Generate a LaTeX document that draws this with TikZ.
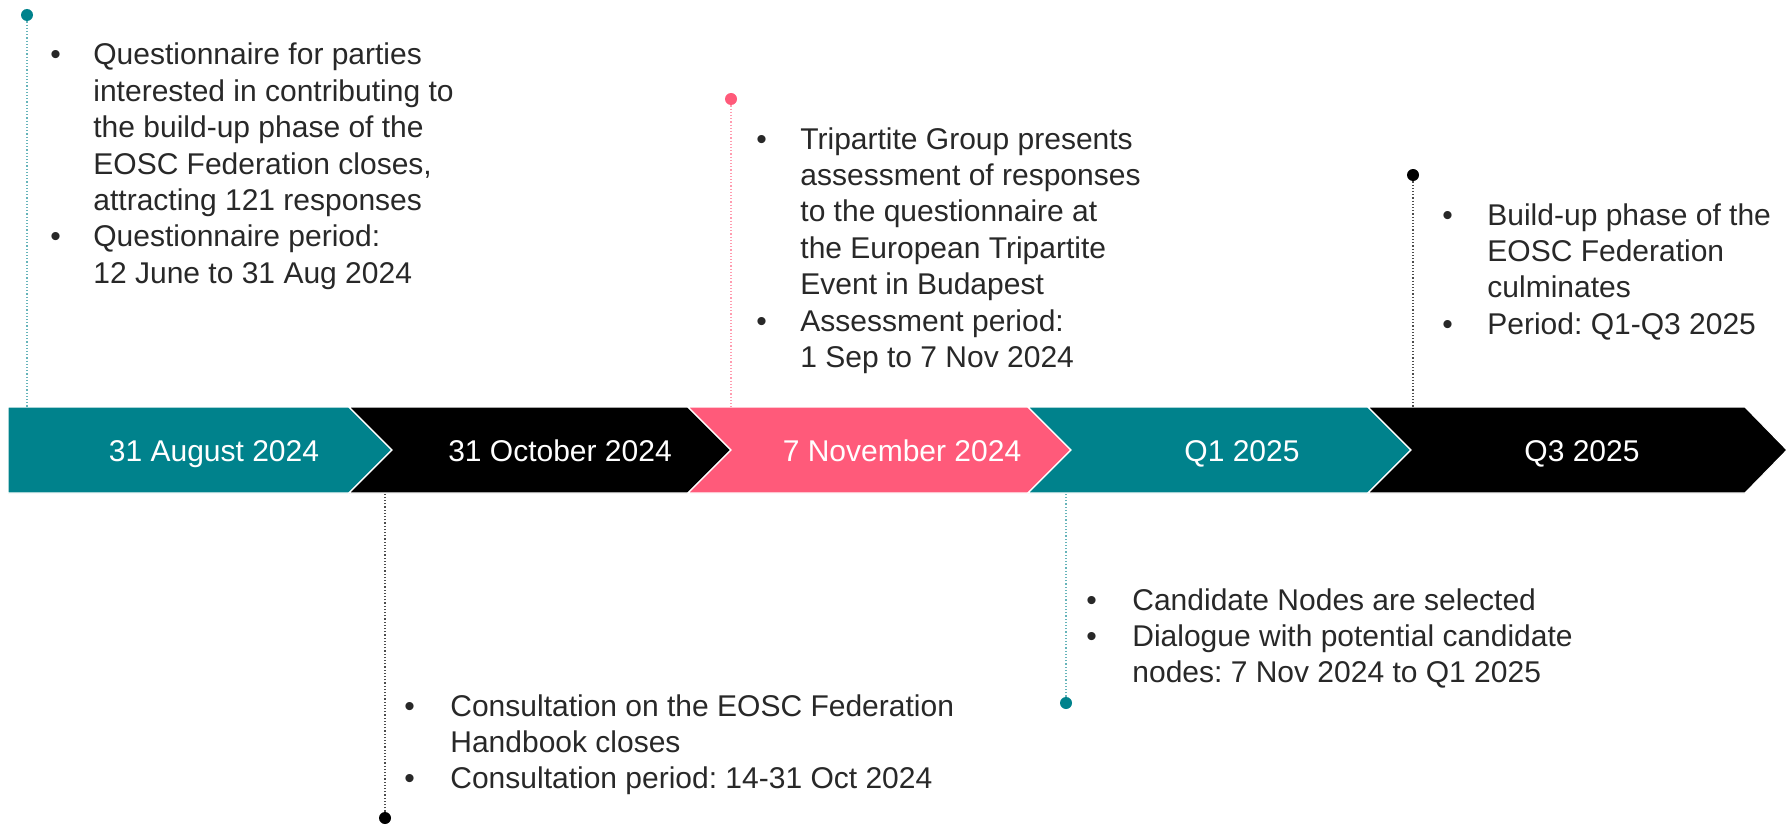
\documentclass[tikz,border=0pt]{standalone}
\definecolor{eoscteal}{RGB}{0, 130, 140}
\definecolor{eoscpink}{RGB}{255, 90, 122}
\definecolor{notegray}{RGB}{40, 40, 40}
\usepackage{fontspec}
\setmainfont{Liberation Sans}
\usepackage{tikz}
\usetikzlibrary{positioning, calc}
\frenchspacing

\begin{document}
\begin{tikzpicture}[x=0.5pt, y=-0.5pt,
  chev/.style={draw=white, line width=0.6pt},
  datelabel/.style={text=white, anchor=base, inner sep=0pt, font=\fontsize{15}{18}\selectfont},
  note/.style={anchor=base west, inner sep=0pt, text=notegray, font=\fontsize{15}{18.2}\selectfont},
  eventdot/.style={circle, fill=#1, inner sep=0pt, minimum size=6pt},
  stem/.style={draw=#1, line width=0.6pt, densely dotted}]
  \useasboundingbox (0,0) rectangle (1787,824);

  % Timeline bar
  \coordinate (bartop) at (0,407);
  \coordinate (barbot) at (0,493);
  \fill[eoscteal, chev] (8,407) -- (349,407) -- (392,450) -- (349,493) -- (8,493) -- cycle;
  \fill[black, chev] (349,407) -- (688,407) -- (731,450) -- (688,493) -- (349,493) -- (392,450) -- cycle;
  \fill[eoscpink, chev] (688,407) -- (1028,407) -- (1071,450) -- (1028,493) -- (688,493) -- (731,450) -- cycle;
  \fill[eoscteal, chev] (1028,407) -- (1368,407) -- (1411,450) -- (1368,493) -- (1028,493) -- (1071,450) -- cycle;
  \fill[black, chev] (1368,407) -- (1745,407) -- (1787,450) -- (1745,493) -- (1368,493) -- (1411,450) -- cycle;

  \node[datelabel] (aug) at (214,461) {31 August 2024};
  \node[datelabel] (oct) at (560,461) {31 October 2024};
  \node[datelabel] (nov) at (902,461) {7 November 2024};
  \node[datelabel] (qone) at (1242,461) {Q1 2025};
  \node[datelabel] (qthree) at (1582,461) {Q3 2025};

  % Events above the bar
  \node[eventdot=eoscteal] (dotaug) at (27,15) {};
  \node[eventdot=eoscpink] (dotnov) at (731,99) {};
  \node[eventdot=black] (dotqthree) at (1413,175) {};
  \draw[stem=eoscteal!60] (dotaug) -- (dotaug |- bartop);
  \draw[stem=eoscpink!60] (dotnov) -- (dotnov |- bartop);
  \draw[stem=black!70] (dotqthree) -- (dotqthree |- bartop);

  \node[note] (noteaug) at (50,65) {\begin{tabular}[t]{@{}p{21.5pt}@{}l@{}}
    \textbullet & Questionnaire for parties\\
    & interested in contributing to\\
    & the build-up phase of the\\
    & EOSC Federation closes,\\
    & attracting 121 responses\\
    \textbullet & Questionnaire period:\\
    & 12 June to 31 Aug 2024
  \end{tabular}};
  \node[note] (notenov) at (756,149) {\begin{tabular}[t]{@{}p{22pt}@{}l@{}}
    \textbullet & Tripartite Group presents\\
    & assessment of responses\\
    & to the questionnaire at\\
    & the European Tripartite\\
    & Event in Budapest\\
    \textbullet & Assessment period:\\
    & 1 Sep to 7 Nov 2024
  \end{tabular}};
  \node[note] (noteqthree) at (1442,225) {\begin{tabular}[t]{@{}p{22.5pt}@{}l@{}}
    \textbullet & Build-up phase of the\\
    & EOSC Federation\\
    & culminates\\
    \textbullet & Period: Q1-Q3 2025
  \end{tabular}};

  % Events below the bar
  \node[eventdot=black] (dotoct) at (385,818) {};
  \node[eventdot=eoscteal] (dotqone) at (1066,703) {};
  \draw[stem=black!70] (dotoct) -- (dotoct |- barbot);
  \draw[stem=eoscteal!60] (dotqone) -- (dotqone |- barbot);

  \node[note] (noteoct) at (404,716) {\begin{tabular}[t]{@{}p{23pt}@{}l@{}}
    \textbullet & Consultation on the EOSC Federation\\
    & Handbook closes\\
    \textbullet & Consultation period: 14-31 Oct 2024
  \end{tabular}};
  \node[note] (noteqone) at (1086,610) {\begin{tabular}[t]{@{}p{23pt}@{}l@{}}
    \textbullet & Candidate Nodes are selected\\
    \textbullet & Dialogue with potential candidate\\
    & nodes: 7 Nov 2024 to Q1 2025
  \end{tabular}};
\end{tikzpicture}
\end{document}
